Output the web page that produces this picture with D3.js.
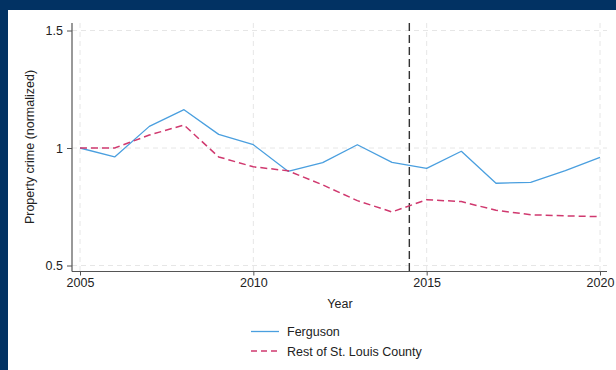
<!DOCTYPE html>
<html>
<head>
<meta charset="utf-8">
<script src="https://cdn.jsdelivr.net/npm/d3@7/dist/d3.min.js"></script>
<style>
  html, body { margin: 0; padding: 0; background: #ffffff; }
  svg { display: block; }
  text { font-family: "Liberation Sans", Arial, Helvetica, sans-serif; fill: #222; }
</style>
</head>
<body>
<svg id="chart" width="616" height="370"></svg>
<script>
// Property crime indexed to 2005 = 1
const years = [2005, 2006, 2007, 2008, 2009, 2010, 2011, 2012, 2013, 2014, 2015, 2016, 2017, 2018, 2019, 2020];
const ferguson = [1.000, 0.962, 1.092, 1.163, 1.058, 1.014, 0.901, 0.938, 1.014, 0.939, 0.913, 0.986, 0.850, 0.854, 0.904, 0.960];
const restOfCounty = [1.000, 1.000, 1.055, 1.098, 0.962, 0.920, 0.903, 0.843, 0.776, 0.728, 0.780, 0.772, 0.735, 0.716, 0.711, 0.708];
const seriesNames = ["Ferguson", "Rest of St. Louis County"];
const xTicks = [2005, 2010, 2015, 2020];
const yTicks = [0.5, 1, 1.5];
const eventYear = 2014.5;

const svg = d3.select("#chart");
const W = 616, H = 370;

// frame: navy band on top and left
svg.append("rect").attr("x", 0).attr("y", 0).attr("width", W).attr("height", H).attr("fill", "#023263");
svg.append("rect").attr("x", 8).attr("y", 10).attr("width", W - 8).attr("height", H - 10).attr("fill", "#ffffff");

const x = d3.scaleLinear().domain([2005, 2020]).range([80, 600]);
const y = d3.scaleLinear().domain([0.5, 1.5]).range([265.5, 30.5]);
const plotLeft = 72, plotRight = 607, plotTop = 23, plotBottom = 271.5;

// grid
const grid = svg.append("g").attr("stroke", "#e6e6e6").attr("stroke-width", 1).attr("stroke-dasharray", "5,4");
grid.selectAll("line.h").data(yTicks).join("line")
  .attr("x1", plotLeft).attr("x2", plotRight)
  .attr("y1", d => y(d)).attr("y2", d => y(d));
grid.selectAll("line.v").data(xTicks).join("line")
  .attr("x1", d => x(d)).attr("x2", d => x(d))
  .attr("y1", plotTop).attr("y2", plotBottom);

// axes
const xAxis = d3.axisBottom(x).tickValues(xTicks).tickFormat(d3.format("d")).tickSize(4).tickPadding(3);
const yAxis = d3.axisLeft(y).tickValues(yTicks).tickFormat(d => d === 1 ? "1" : d3.format(".1f")(d)).tickSize(5).tickPadding(4);

const gx = svg.append("g").attr("transform", `translate(0,${plotBottom})`).call(xAxis);
gx.select(".domain").attr("d", `M${plotLeft},0H${plotRight}`);
const gy = svg.append("g").attr("transform", `translate(${plotLeft},0)`).call(yAxis);
gy.select(".domain").attr("d", `M0,${plotTop}V${plotBottom}`);

[gx, gy].forEach(g => {
  g.select(".domain").attr("stroke", "#555").attr("stroke-width", 1.2);
  g.selectAll(".tick line").attr("stroke", "#555");
  g.selectAll(".tick text").attr("fill", "#222").style("font-size", "12.5px")
    .style("font-family", "'Liberation Sans', Arial, sans-serif");
});

// event marker
svg.append("line")
  .attr("x1", x(eventYear)).attr("x2", x(eventYear))
  .attr("y1", plotTop).attr("y2", plotBottom)
  .attr("stroke", "#333").attr("stroke-width", 1.4).attr("stroke-dasharray", "8,4");

// series
const line = d3.line().x((d, i) => x(years[i])).y(d => y(d));
const styles = [
  { data: ferguson, color: "#4a9fdf", dash: null, width: 1.3 },
  { data: restOfCounty, color: "#d0396f", dash: "7,4", width: 1.5 }
];
styles.forEach(s => {
  svg.append("path").datum(s.data)
    .attr("fill", "none").attr("stroke", s.color).attr("stroke-width", s.width)
    .attr("stroke-dasharray", s.dash).attr("stroke-linejoin", "round")
    .attr("d", line);
});

// axis titles
svg.append("text").attr("x", 340).attr("y", 308).attr("text-anchor", "middle")
  .style("font-size", "12.5px").text("Year");
svg.append("text").attr("transform", "translate(34,147) rotate(-90)").attr("text-anchor", "middle")
  .style("font-size", "12.5px").text("Property crime (normalized)");

// legend
const legend = svg.append("g");
styles.forEach((s, i) => {
  const ly = 331.5 + i * 19.5;
  legend.append("line").attr("x1", 251).attr("x2", 279).attr("y1", ly).attr("y2", ly)
    .attr("stroke", s.color).attr("stroke-width", s.width).attr("stroke-dasharray", s.dash ? "6,4" : null);
  legend.append("text").attr("x", 287).attr("y", ly + 4.5).style("font-size", "12.5px").text(seriesNames[i]);
});
</script>
</body>
</html>
